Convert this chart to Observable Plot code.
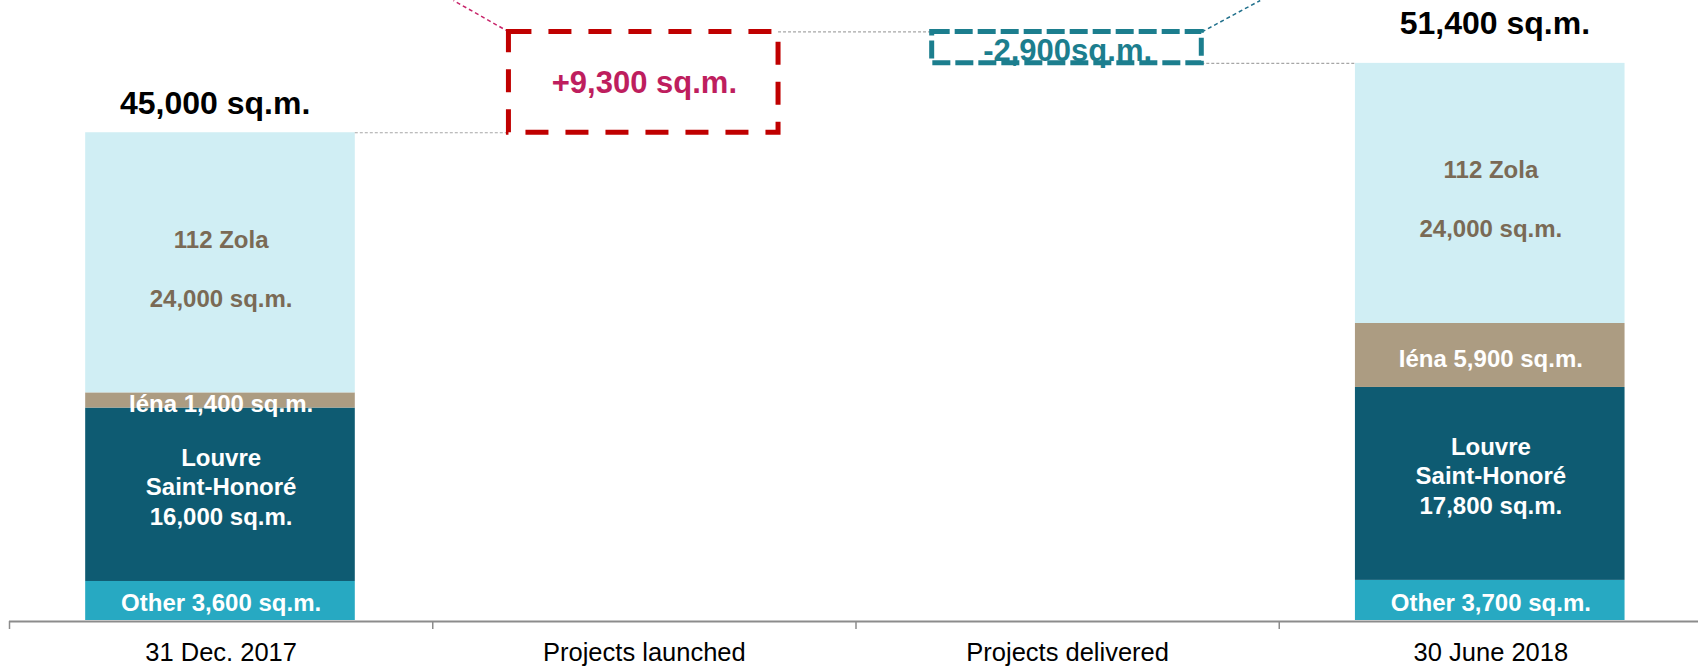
<!DOCTYPE html>
<html>
<head>
<meta charset="utf-8">
<script src="https://cdn.jsdelivr.net/npm/d3@7"></script>
<script src="https://cdn.jsdelivr.net/npm/@observablehq/plot@0.6"></script>
<style>
  html, body { margin: 0; padding: 0; background: #ffffff; }
  #chart svg { display: block; }
</style>
</head>
<body>
<div id="chart"></div>
<script>
// Office pipeline bridge, 31 Dec. 2017 -> 30 June 2018 (sq.m.)
const categories = ["31 Dec. 2017", "Projects launched", "Projects delivered", "30 June 2018"];
const segments = ["Other", "Louvre Saint-Honoré", "Iéna", "112 Zola"];
const dec2017 = [3600, 16000, 1400, 24000];
const jun2018 = [3700, 17800, 5900, 24000];
const totals = [45000, 51400];
const launched = 9300;
const delivered = -2900;
const totalLabels = ["45,000 sq.m.", "51,400 sq.m."];
const deltaLabels = ["+9,300 sq.m.", "-2,900sq.m."];
const labels2017 = ["Other 3,600 sq.m.", "Louvre\nSaint-Honoré\n16,000 sq.m.", "Iéna 1,400 sq.m.", "112 Zola\n\n24,000 sq.m."];
const labels2018 = ["Other 3,700 sq.m.", "Louvre\nSaint-Honoré\n17,800 sq.m.", "Iéna 5,900 sq.m.", "112 Zola\n\n24,000 sq.m."];

// layout / style
const segColors = ["#27a9c2", "#0e5b72", "#ac9c82", "#d0eef4"];
const segText = {"Other": "#ffffff", "Louvre Saint-Honoré": "#ffffff", "Iéna": "#ffffff", "112 Zola": "#7a6a55"};
const segDy = {"Other": 1, "Louvre Saint-Honoré": -9, "Iéna": 2, "112 Zola": 5};
const BAR0 = 0.18, BAR1 = 0.817;   // bar extent inside each category slot
const yMax = 57200;
const FONT = "'Liberation Sans', Arial, Helvetica, sans-serif";

function stackRows(values, labels, slot) {
  let base = 0;
  return values.map((v, k) => {
    const r = {slot, segment: segments[k], y1: base, y2: base + v, label: labels[k]};
    base += v;
    return r;
  });
}
const rows = [...stackRows(dec2017, labels2017, 0), ...stackRows(jun2018, labels2018, 3)];

const peak = totals[0] + launched;
const deltas = [
  {slot: 1, y1: totals[0], y2: peak, label: deltaLabels[0]},
  {slot: 2, y1: peak, y2: peak + delivered, label: deltaLabels[1]}
];

// dotted connectors between consecutive bars
const connectors = [
  {x1: 0 + BAR1, x2: 1 + BAR0, y: totals[0]},
  {x1: 1 + BAR1, x2: 2 + BAR0, y: peak},
  {x1: 2 + BAR1, x2: 3 + BAR0, y: peak + delivered}
];

// leader lines running up from the change boxes
const leaders = [
  {x1: 1 + BAR0, y1: peak, x2: 1.049, y2: yMax, color: "#c8246a"},
  {x1: 2 + BAR1, y1: peak, x2: 2.955, y2: yMax, color: "#1f6f8b"}
];

const totalRows = [
  {slot: 0, y: totals[0], label: totalLabels[0], dx: -6, dy: -29},
  {slot: 3, y: totals[1], label: totalLabels[1], dx: 4, dy: -40}
];

const plot = Plot.plot({
  width: 1698,
  height: 666,
  marginLeft: 9,
  marginRight: 0,
  marginTop: 0,
  marginBottom: 45,
  style: {fontFamily: FONT, background: "#ffffff", color: "#000000"},
  x: {domain: [0, 4], range: [9, 1702], label: null},
  y: {domain: [0, yMax], range: [620, 0], axis: null},
  color: {domain: segments, range: segColors},
  marks: [
    Plot.rect(rows, {
      x1: d => d.slot + BAR0, x2: d => d.slot + BAR1,
      y1: "y1", y2: "y2", fill: "segment"
    }),
    Plot.ruleY(connectors, {
      y: "y", x1: "x1", x2: "x2",
      stroke: "#a6a6a6", strokeWidth: 1.2, strokeDasharray: "3,2"
    }),
    Plot.link(leaders, {
      x1: "x1", y1: "y1", x2: "x2", y2: "y2",
      stroke: "color", strokeWidth: 1.5, strokeDasharray: "4,3"
    }),
    Plot.rect(deltas.slice(0, 1), {
      x1: d => d.slot + BAR0, x2: d => d.slot + BAR1, y1: "y1", y2: "y2",
      fill: "none", stroke: "#c00000", strokeWidth: 5, strokeDasharray: "23,17"
    }),
    Plot.rect(deltas.slice(1), {
      x1: d => d.slot + BAR0, x2: d => d.slot + BAR1, y1: "y1", y2: "y2",
      fill: "none", stroke: "#1c7e8e", strokeWidth: 5, strokeDasharray: "18,5"
    }),
    Plot.ruleY([0], {stroke: "#8c8c8c", strokeWidth: 2, dy: 1}),
    Plot.axisX({
      ticks: [0, 1, 2, 3, 4], tickSize: 8, tickFormat: () => "",
      stroke: "#8c8c8c", strokeWidth: 1.5
    }),
    Plot.axisX({
      ticks: [0.5, 1.5, 2.5, 3.5], tickSize: 0, tickPadding: 21,
      tickFormat: d => categories[Math.floor(d)],
      fontSize: 25.5, fill: "#000000"
    }),
    ...segments.map(s => Plot.text(rows.filter(d => d.segment === s), {
      x: d => d.slot + 0.5, y: d => (d.y1 + d.y2) / 2, text: "label",
      dy: segDy[s], fill: segText[s], fontSize: 24, fontWeight: "bold",
      lineHeight: 1.23
    })),
    ...totalRows.map(t => Plot.text([t], {
      x: d => d.slot + 0.5, y: "y", text: "label", dx: t.dx, dy: t.dy,
      fill: "#000000", fontSize: 32, fontWeight: "bold"
    })),
    Plot.text(deltas.slice(0, 1), {
      x: d => d.slot + 0.5, y: d => (d.y1 + d.y2) / 2, text: "label",
      fill: "#be1e5e", fontSize: 31, fontWeight: "bold", dy: 1
    }),
    Plot.text(deltas.slice(1), {
      x: d => d.slot + 0.5, y: d => (d.y1 + d.y2) / 2, text: "label",
      fill: "#1c7e8e", fontSize: 31, fontWeight: "bold", dy: 3
    })
  ]
});

document.getElementById("chart").appendChild(plot);
</script>
</body>
</html>
